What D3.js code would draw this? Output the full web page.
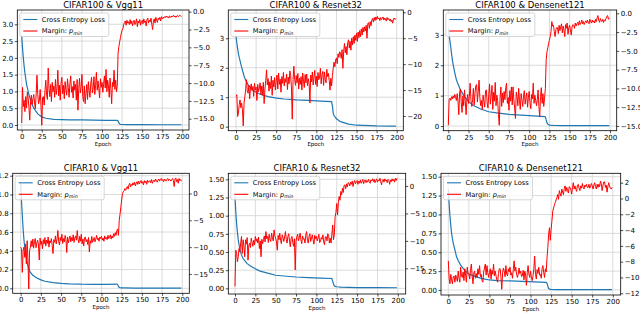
<!DOCTYPE html>
<html>
<head>
<meta charset="utf-8">
<script src="https://d3js.org/d3.v7.min.js"></script>
<style>
  body { margin: 0; background: #fff; }
  svg text { font-family: "DejaVu Sans", sans-serif; fill: #000; }
</style>
</head>
<body>
<div id="chart"></div>
<script>
// ---- data -------------------------------------------------------------
var titles = ["CIFAR100 & Vgg11", "CIFAR100 & Resnet32", "CIFAR100 & Densenet121",
              "CIFAR10 & Vgg11", "CIFAR10 & Resnet32", "CIFAR10 & Densenet121"];
var xTicks = [0, 25, 50, 75, 100, 125, 150, 175, 200];

var lossEpochs = [0, 1, 2, 3, 4, 5, 6, 8, 10, 12, 15, 20, 25, 30, 40, 50, 60, 75, 90, 105,
                  119, 120, 121, 122, 123, 125, 130, 140, 150, 175, 199];

var lossC100Vgg = [2.65, 2.3, 2.0, 1.75, 1.55, 1.38, 1.22, 1.0, 0.82, 0.67, 0.5, 0.33, 0.24, 0.2, 0.17, 0.16,
                   0.155, 0.15, 0.145, 0.14, 0.135, 0.12, 0.06, 0.03, 0.02, 0.015, 0.012, 0.01, 0.01, 0.008, 0.008];
var lossC100Res = [3.06, 2.85, 2.65, 2.48, 2.35, 2.24, 2.12, 1.92, 1.72, 1.58, 1.43, 1.27, 1.17, 1.1, 1.02, 0.97,
                   0.94, 0.91, 0.89, 0.87, 0.85, 0.7, 0.45, 0.38, 0.34, 0.27, 0.17, 0.09, 0.05, 0.025, 0.02];
var lossC100Dense = [3.2, 3.0, 2.8, 2.6, 2.38, 2.18, 2.02, 1.75, 1.52, 1.38, 1.19, 0.97, 0.8, 0.69, 0.56, 0.47,
                     0.43, 0.38, 0.355, 0.335, 0.31, 0.3, 0.2, 0.11, 0.06, 0.03, 0.02, 0.015, 0.012, 0.01, 0.01];
var lossC10Vgg = [1.12, 0.93, 0.77, 0.63, 0.52, 0.44, 0.37, 0.27, 0.21, 0.17, 0.14, 0.11, 0.09, 0.075, 0.06, 0.053,
                  0.048, 0.044, 0.043, 0.043, 0.045, 0.04, 0.02, 0.01, 0.006, 0.005, 0.004, 0.003, 0.003, 0.003, 0.003];
var lossC10Res = [1.26, 1.05, 0.89, 0.77, 0.67, 0.6, 0.53, 0.46, 0.41, 0.38, 0.34, 0.3, 0.27, 0.24, 0.21, 0.18,
                  0.17, 0.156, 0.147, 0.14, 0.135, 0.1, 0.06, 0.035, 0.027, 0.022, 0.016, 0.012, 0.01, 0.009, 0.008];
var lossC10Dense = [1.33, 1.14, 0.98, 0.85, 0.75, 0.68, 0.62, 0.53, 0.44, 0.39, 0.33, 0.26, 0.21, 0.19, 0.155, 0.133,
                    0.125, 0.12, 0.115, 0.108, 0.1, 0.09, 0.05, 0.02, 0.012, 0.008, 0.006, 0.005, 0.005, 0.005, 0.005];

// margin p_min, one value per epoch 0..199
var marginC100Vgg = [
  -15.6, -10.6, -13.3, -12.4, -14.0, -11.9, -13.5, -11.3, -12.1, -13.4,
  -15.2, -12.6, -11.7, -13.0, -12.2, -11.6, -12.8, -13.6, -11.5, -8.9,
  -11.6, -12.9, -12.4, -10.9, -13.2, -15.9, -12.0, -11.9, -13.1, -11.0,
  -9.6, -11.7, -12.3, -7.9, -10.8, -11.9, -10.2, -12.6, -9.9, -11.2,
  -10.4, -12.0, -9.5, -11.6, -10.7, -8.2, -11.8, -10.3, -12.4, -10.0,
  -9.2, -11.5, -10.3, -12.2, -9.8, -10.9, -11.7, -9.4, -10.6, -12.0,
  -10.1, -9.0, -11.3, -10.5, -12.1, -9.7, -11.0, -10.2, -12.4, -9.5,
  -13.8, -10.8, -9.3, -11.4, -10.6, -8.8, -11.9, -12.6, -10.4, -12.9,
  -11.5, -10.2, -12.3, -9.8, -11.1, -12.0, -10.0, -9.2, -11.4, -10.7,
  -9.1, -11.6, -10.3, -8.5, -11.0, -9.7, -10.8, -12.1, -9.4, -10.6,
  -9.9, -11.3, -10.1, -9.0, -10.7, -8.1, -11.2, -9.6, -10.4, -12.0,
  -9.3, -10.8, -12.9, -9.9, -10.5, -8.2, -10.9, -9.6, -11.2, -10.3,
  -5.8, -4.9, -4.2, -3.6, -3.0, -2.6, -2.4, -1.8, -1.5, -1.3,
  -1.9, -1.2, -1.6, -1.4, -1.8, -1.1, -1.7, -1.3, -2.0, -1.4,
  -1.2, -1.8, -1.5, -1.0, -2.1, -1.3, -1.6, -1.1, -1.9, -1.4,
  -1.2, -1.7, -1.0, -1.5, -1.3, -2.0, -1.1, -0.9, -1.6, -1.2,
  -1.4, -0.9, -1.8, -2.5, -1.3, -1.0, -1.6, -0.8, -1.2, -1.5,
  -0.9, -1.1, -0.8, -1.3, -0.7, -1.0, -0.8, -0.9, -0.7, -0.8,
  -0.6, -0.8, -0.7, -0.9, -0.6, -0.7, -0.8, -0.6, -0.7, -0.5,
  -0.7, -0.6, -0.8, -0.6, -0.5, -0.7, -0.6, -0.5, -0.6, -0.7];
var marginC100Res = [
  -16.2, -15.9, -20.1, -19.4, -17.8, -16.9, -18.4, -17.5, -18.8, -21.9,
  -17.5, -16.3, -14.9, -13.0, -15.2, -15.6, -14.1, -16.7, -14.6, -13.8,
  -15.1, -14.3, -16.2, -13.7, -15.0, -14.4, -17.0, -13.9, -15.3, -14.6,
  -13.6, -15.8, -14.2, -16.0, -13.5, -17.6, -14.8, -13.2, -11.1, -14.0,
  -12.8, -15.2, -13.4, -14.7, -12.3, -16.0, -13.1, -14.4, -12.6, -15.0,
  -13.3, -12.1, -14.8, -11.7, -13.9, -12.9, -15.4, -12.4, -13.7, -11.6,
  -14.2, -12.8, -13.5, -11.9, -14.9, -12.5, -13.8, -11.3, -12.2, -14.6,
  -20.6, -13.0, -10.4, -12.9, -14.1, -12.2, -13.6, -11.8, -14.8, -12.7,
  -13.9, -12.4, -15.0, -11.7, -13.3, -14.5, -12.0, -13.6, -11.9, -14.2,
  -12.8, -13.7, -17.5, -12.1, -13.4, -11.5, -14.0, -12.6, -11.2, -13.9,
  -12.3, -14.3, -11.6, -13.0, -12.5, -10.8, -13.8, -12.0, -11.4, -14.1,
  -11.5, -12.9, -13.6, -11.0, -12.4, -11.8, -13.1, -15.0, -12.7, -14.2,
  -12.2, -10.8, -9.6, -10.5, -9.2, -8.8, -9.9, -8.0, -8.7, -7.6,
  -7.9, -8.9, -7.2, -10.8, -7.5, -6.0, -7.8, -6.6, -8.2, -5.9,
  -5.3, -6.9, -5.6, -7.3, -5.0, -6.3, -4.7, -6.0, -4.4, -5.4,
  -4.0, -5.6, -3.8, -4.9, -3.5, -4.7, -3.2, -4.4, -2.9, -3.8,
  -2.8, -3.6, -2.5, -5.0, -2.2, -2.0, -3.1, -1.8, -2.6, -1.5,
  -1.2, -1.9, -1.0, -1.6, -0.9, -1.4, -0.8, -1.3, -1.1, -1.6,
  -1.0, -1.4, -1.2, -0.9, -1.5, -1.1, -1.3, -1.7, -1.0, -1.4,
  -1.2, -1.6, -1.3, -1.8, -1.5, -2.1, -1.3, -1.1, -1.4, -1.2];
var marginC100Dense = [
  -14.9, -11.5, -11.3, -11.6, -11.1, -11.4, -11.0, -11.3, -10.8, -11.2,
  -11.6, -10.7, -11.8, -13.5, -10.5, -10.1, -11.9, -13.2, -11.0, -12.3,
  -10.2, -11.7, -13.5, -11.5, -10.8, -12.0, -11.1, -9.3, -11.6, -12.4,
  -11.5, -10.0, -12.2, -10.6, -9.6, -9.5, -11.8, -10.4, -8.9, -11.2,
  -12.3, -11.6, -12.8, -10.9, -11.7, -12.5, -10.3, -10.2, -11.9, -12.6,
  -10.8, -9.4, -12.1, -11.0, -9.6, -12.8, -10.5, -11.7, -9.2, -12.3,
  -10.9, -11.6, -13.5, -14.9, -11.3, -9.8, -12.4, -10.6, -11.9, -10.4,
  -11.5, -9.9, -9.3, -12.0, -11.2, -12.9, -10.3, -11.7, -9.8, -12.2,
  -9.8, -11.4, -12.6, -14.0, -10.5, -11.1, -12.3, -10.0, -11.6, -12.8,
  -10.7, -11.5, -12.4, -11.0, -10.3, -12.1, -11.3, -10.6, -12.5, -11.2,
  -10.4, -11.9, -12.7, -10.8, -11.4, -9.3, -12.0, -10.9, -11.6, -12.3,
  -11.5, -10.2, -12.4, -13.8, -11.1, -9.9, -12.0, -10.7, -12.4, -11.3,
  -10.0, -6.2, -5.1, -4.6, -4.0, -3.6, -3.1, -2.4, -1.1, -1.7,
  -1.6, -2.4, -3.1, -2.2, -1.9, -1.9, -2.7, -1.6, -2.3, -1.8,
  -1.4, -2.6, -1.7, -2.2, -3.1, -1.5, -2.0, -1.3, -2.8, -1.9,
  -1.6, -2.2, -2.9, -1.8, -1.5, -1.6, -2.0, -1.3, -1.7, -1.4,
  -1.2, -1.6, -1.0, -1.5, -1.3, -0.9, -1.4, -1.1, -1.5, -1.2,
  -1.0, -1.3, -0.9, -1.2, -1.4, -0.8, -1.1, -1.3, -0.9, -1.2,
  -1.0, -1.3, -0.8, -1.1, -0.6, -0.3, -0.9, -1.2, -0.7, -1.0,
  -1.1, -0.8, -1.2, -0.9, -1.0, -0.7, -0.4, -0.3, -0.8, -0.6];
var marginC10Vgg = [
  -10.0, -10.3, -14.7, -10.6, -10.0, -11.9, -9.4, -13.1, -8.8, -12.5,
  -17.8, -10.6, -10.0, -8.8, -9.9, -8.5, -10.2, -9.0, -8.4, -10.1,
  -9.2, -8.7, -9.6, -12.4, -8.3, -9.5, -8.9, -10.3, -8.6, -9.4,
  -8.2, -9.8, -8.7, -9.3, -8.1, -10.0, -8.8, -9.2, -8.4, -9.7,
  -11.2, -8.6, -9.1, -7.9, -9.4, -8.5, -6.9, -8.9, -9.6, -8.2,
  -8.8, -7.6, -9.3, -8.4, -9.0, -7.8, -8.6, -11.0, -8.1, -9.2,
  -8.5, -7.9, -9.0, -8.2, -8.8, -7.7, -9.1, -8.3, -7.9, -8.7,
  -6.9, -8.6, -9.2, -8.0, -8.9, -7.6, -9.4, -8.5, -9.8, -8.3,
  -8.1, -9.0, -8.6, -9.5, -8.2, -10.9, -8.8, -9.3, -8.0, -9.1,
  -8.7, -8.2, -9.0, -8.5, -7.8, -8.6, -8.3, -8.9, -8.1, -8.4,
  -8.0, -8.7, -8.3, -8.9, -7.9, -8.5, -8.2, -8.6, -7.8, -8.4,
  -8.1, -7.7, -8.5, -7.9, -8.3, -7.5, -8.0, -7.3, -7.8, -6.9,
  -6.6, -7.8, -5.0, -3.8, -2.5, -1.2, 0.0, 0.3, 0.5, 0.9,
  0.6, 1.1, 1.3, 0.8, 1.6, 1.9, 1.2, 1.7, 1.5, 2.0,
  1.6, 2.1, 1.4, 1.9, 2.2, 1.7, 2.3, 1.8, 2.1, 2.4,
  1.9, 2.2, 1.6, 2.4, 2.0, 2.3, 1.7, 2.5, 2.1, 2.2,
  2.4, 2.0, 2.6, 1.9, 2.3, 2.5, 2.2, 2.7, 2.4, 2.1,
  2.5, 2.7, 2.3, 2.6, 2.8, 2.4, 2.6, 2.2, 2.7, 2.5,
  2.3, 2.6, 2.8, 2.4, 2.7, 2.5, 2.3, 2.6, 2.8, 2.4,
  1.3, 2.7, 2.9, 2.2, 2.6, 1.9, 2.8, 2.4, 2.6, 2.3];
var marginC10Res = [
  -18.3, -11.7, -12.3, -13.8, -12.9, -11.4, -12.0, -10.4, -9.2, -12.3,
  -9.8, -11.0, -12.9, -9.8, -10.6, -9.4, -13.5, -10.8, -10.4, -11.2,
  -9.5, -10.3, -11.0, -9.9, -10.7, -9.2, -10.1, -9.6, -10.4, -9.3,
  -11.4, -10.0, -12.9, -9.7, -10.5, -9.8, -9.1, -10.2, -8.3, -9.6,
  -9.2, -10.3, -8.8, -9.7, -10.1, -8.6, -9.4, -10.0, -8.0, -9.1,
  -9.5, -10.2, -11.7, -9.0, -9.8, -8.6, -9.9, -10.5, -8.9, -9.4,
  -10.1, -9.3, -8.3, -9.7, -10.4, -9.2, -8.7, -10.0, -11.1, -9.5,
  -9.2, -10.3, -11.0, -9.6, -15.3, -10.1, -9.2, -8.8, -10.0, -9.4,
  -8.6, -9.8, -10.5, -9.1, -9.7, -9.6, -10.4, -8.9, -8.3, -9.9,
  -10.4, -9.2, -8.7, -10.1, -9.5, -8.9, -9.8, -10.6, -9.0, -9.6,
  -9.2, -10.0, -9.5, -8.8, -10.3, -10.1, -9.4, -9.7, -8.9, -10.2,
  -10.7, -9.3, -9.2, -10.0, -8.7, -9.0, -10.4, -9.5, -10.4, -8.8,
  -7.1, -9.8, -8.9, -5.6, -4.8, -3.2, -5.3, -3.0, -1.9, -2.6,
  -1.0, -1.6, -0.4, -1.2, 0.1, 0.2, -0.5, 0.4, -0.2, 0.6,
  0.5, 0.0, 0.7, 0.3, 0.9, -0.1, 0.6, 1.0, 0.4, 0.8,
  1.0, 0.3, 0.9, 0.5, 1.1, 0.5, 0.8, 1.2, 0.4, 0.9,
  1.1, 0.6, 1.0, 0.7, 1.2, 0.8, 0.5, 1.1, 0.9, 1.3,
  0.8, 1.2, 0.6, 1.0, 1.3, 0.7, 1.1, 0.9, 1.4, 0.8,
  0.2, 1.0, 1.2, 0.7, 1.3, 0.9, 1.1, 0.6, 1.2, 1.0,
  0.3, 1.1, 0.8, 1.3, 0.9, 1.2, 0.7, 1.4, 1.0, 1.4];
var marginC10Dense = [
  -7.9, -10.2, -10.8, -9.6, -10.3, -10.8, -9.9, -9.8, -10.6, -9.7,
  -10.0, -10.5, -9.2, -10.1, -10.6, -8.7, -9.8, -10.0, -9.3, -10.4,
  -8.9, -9.7, -10.6, -8.7, -9.5, -9.6, -10.2, -9.1, -8.3, -9.8,
  -10.8, -9.4, -9.2, -10.1, -9.5, -10.0, -8.9, -9.6, -8.5, -9.9,
  -9.6, -10.4, -10.6, -9.3, -8.8, -8.3, -9.7, -8.5, -9.4, -10.0,
  -9.4, -8.9, -10.2, -9.1, -9.6, -8.3, -9.8, -9.2, -9.8, -10.3,
  -10.6, -9.5, -8.9, -8.9, -10.0, -11.5, -9.4, -8.8, -9.2, -9.9,
  -8.5, -9.6, -9.8, -8.9, -9.3, -8.7, -9.7, -9.4, -10.1, -9.0,
  -7.9, -9.2, -8.7, -9.6, -10.0, -9.6, -8.8, -9.5, -9.2, -9.9,
  -9.8, -9.1, -10.3, -9.2, -9.7, -11.0, -9.4, -8.5, -9.6, -10.0,
  -9.2, -9.9, -10.4, -9.8, -8.9, -7.3, -9.6, -10.2, -9.0, -9.5,
  -8.7, -9.7, -9.6, -10.1, -8.9, -8.5, -9.4, -10.0, -8.9, -9.3,
  -7.5, -6.2, -4.5, -3.7, -5.3, -3.9, -2.8, -1.6, -1.2, -0.8,
  -0.5, -0.2, 0.1, 0.5, -0.1, 1.0, 0.6, 0.3, 1.2, 0.8,
  0.5, 1.3, 1.6, 0.9, 1.4, 1.0, 0.7, 1.5, 1.4, 1.1,
  0.55, 1.4, 2.0, 1.2, 1.6, 1.2, 0.9, 1.7, 1.8, 1.3,
  1.0, 1.6, 1.3, 1.9, 1.4, 1.2, 1.7, 1.5, 1.8, 1.4,
  1.4, 1.8, 1.3, 1.6, 1.9, 1.6, 1.2, 1.7, 2.0, 1.5,
  1.2, 1.8, 1.4, 1.8, 1.5, 2.2, 1.9, 1.0, 1.6, 2.1,
  2.1, 1.4, 1.7, 0.8, 1.5, 2.0, 1.6, 1.3, 1.2, 1.4];

var lossSeries = [lossC100Vgg, lossC100Res, lossC100Dense, lossC10Vgg, lossC10Res, lossC10Dense];
var marginSeries = [marginC100Vgg, marginC100Res, marginC100Dense, marginC10Vgg, marginC10Res, marginC10Dense];

var leftTicks = [
  [0, 0.5, 1, 1.5, 2, 2.5, 3],
  [0, 1, 2, 3],
  [0, 1, 2, 3],
  [0, 0.2, 0.4, 0.6, 0.8, 1.0, 1.2],
  [0, 0.25, 0.5, 0.75, 1.0, 1.25, 1.5],
  [0, 0.25, 0.5, 0.75, 1.0, 1.25, 1.5]];
var rightTicks = [
  [0, -2.5, -5, -7.5, -10, -12.5, -15],
  [0, -5, -10, -15, -20],
  [0, -2.5, -5, -7.5, -10, -12.5, -15],
  [0, -5, -10, -15],
  [0, -5, -10, -15],
  [2, 0, -2, -4, -6, -8, -10, -12]];
var leftFmt = [".1f", "d", "d", ".1f", ".2f", ".2f"];
var rightFmt = [".1f", "d", ".1f", "d", "d", "d"];

// ---- layout (axes boxes and ranges per panel) --------------------------
var layout = [
  {x0: 17.3,  x1: 189,   y0: 10,    y1: 130,   xDom: [-5.5, 208.3], lDom: [-0.149, 3.426], rDom: [-16.58, 0.238]},
  {x0: 228.3, x1: 403.3, y0: 10,    y1: 130.7, xDom: [-9.6, 208.2], lDom: [-0.136, 3.96],  rDom: [-22.83, 0.44]},
  {x0: 443.3, x1: 616.7, y0: 10,    y1: 130.7, xDom: [-6.2, 208.2], lDom: [-0.155, 3.82],  rDom: [-15.63, 0.44]},
  {x0: 12.7,  x1: 189.3, y0: 173.3, y1: 293.3, xDom: [-9.9, 208.7], lDom: [-0.053, 1.226], rDom: [-18.6, 3.76]},
  {x0: 228.3, x1: 405.7, y0: 173.3, y1: 294,   xDom: [-8.2, 209.7], lDom: [-0.078, 1.583], rDom: [-19.68, 2.31]},
  {x0: 441,   x1: 620.7, y0: 173.3, y1: 295,   xDom: [-8.9, 209.6], lDom: [-0.066, 1.545], rDom: [-12.22, 3.19]}];

var blue = "#1f77b4", red = "#ff0000";

var svg = d3.select("#chart").append("svg")
  .attr("width", 640).attr("height", 314)
  .style("background", "#fff");

layout.forEach(function(L, i) {
  var x = d3.scaleLinear().domain(L.xDom).range([L.x0, L.x1]);
  var yl = d3.scaleLinear().domain(L.lDom).range([L.y1, L.y0]);
  var yr = d3.scaleLinear().domain(L.rDom).range([L.y1, L.y0]);
  var g = svg.append("g");

  g.append("clipPath").attr("id", "clip" + i)
    .append("rect").attr("x", L.x0).attr("y", L.y0)
    .attr("width", L.x1 - L.x0).attr("height", L.y1 - L.y0);

  // grid
  g.selectAll(".vg").data(xTicks).enter().append("line")
    .attr("x1", d => x(d)).attr("x2", d => x(d))
    .attr("y1", L.y0).attr("y2", L.y1)
    .attr("stroke", "#d2d2d2").attr("stroke-width", 0.8);
  g.selectAll(".hg").data(leftTicks[i]).enter().append("line")
    .attr("x1", L.x0).attr("x2", L.x1)
    .attr("y1", d => yl(d)).attr("y2", d => yl(d))
    .attr("stroke", "#d2d2d2").attr("stroke-width", 0.8);

  // lines
  var lossLine = d3.line().x((d, k) => x(lossEpochs[k])).y(d => yl(d));
  var marginLine = d3.line().x((d, k) => x(k)).y(d => yr(d));
  var plot = g.append("g").attr("clip-path", "url(#clip" + i + ")");
  plot.append("path").datum(lossSeries[i])
    .attr("d", lossLine).attr("fill", "none")
    .attr("stroke", blue).attr("stroke-width", 1.2);
  plot.append("path").datum(marginSeries[i])
    .attr("d", marginLine).attr("fill", "none")
    .attr("stroke", red).attr("stroke-width", 1).attr("stroke-linejoin", "round");

  // frame
  g.append("rect").attr("x", L.x0).attr("y", L.y0)
    .attr("width", L.x1 - L.x0).attr("height", L.y1 - L.y0)
    .attr("fill", "none").attr("stroke", "#000").attr("stroke-width", 0.8);

  // axes (d3.axis sets its own font-size, so override afterwards)
  function styleAxis(sel) {
    sel.attr("font-size", 7).attr("font-family", "DejaVu Sans, sans-serif");
    sel.select(".domain").remove();
    sel.selectAll("line").attr("stroke", "#000").attr("stroke-width", 0.7);
    sel.selectAll("text").attr("fill", "#000");
  }
  g.append("g").attr("transform", "translate(0," + L.y1 + ")")
    .call(d3.axisBottom(x).tickValues(xTicks).tickSize(2.5).tickPadding(1.5))
    .call(styleAxis);
  g.append("g").attr("transform", "translate(" + L.x0 + ",0)")
    .call(d3.axisLeft(yl).tickValues(leftTicks[i]).tickFormat(d3.format(leftFmt[i])).tickSize(2.5).tickPadding(1.5))
    .call(styleAxis);
  g.append("g").attr("transform", "translate(" + L.x1 + ",0)")
    .call(d3.axisRight(yr).tickValues(rightTicks[i]).tickFormat(d3.format(rightFmt[i])).tickSize(2.5).tickPadding(1.5))
    .call(styleAxis);

  // title and x label
  g.append("text").attr("x", (L.x0 + L.x1) / 2).attr("y", L.y0 - 2.5)
    .attr("text-anchor", "middle").attr("font-size", 8.5).text(titles[i]);
  g.append("text").attr("x", (L.x0 + L.x1) / 2).attr("y", L.y1 + 15.5)
    .attr("text-anchor", "middle").attr("font-size", 5.5).text("Epoch");

  // legend
  var lx = L.x0 + 2.5, ly = L.y0 + 3;
  var lg = g.append("g");
  lg.append("rect").attr("x", lx).attr("y", ly).attr("width", 89).attr("height", 23.5)
    .attr("rx", 2).attr("fill", "#fff").attr("fill-opacity", 0.8)
    .attr("stroke", "#cccccc").attr("stroke-width", 0.8);
  [[blue, 6.5], [red, 18]].forEach(function(r) {
    lg.append("line").attr("x1", lx + 3.5).attr("x2", lx + 17.5)
      .attr("y1", ly + r[1]).attr("y2", ly + r[1])
      .attr("stroke", r[0]).attr("stroke-width", 1.1);
  });
  lg.append("text").attr("x", lx + 22).attr("y", ly + 6.5 + 2.4)
    .attr("font-size", 6.7).text("Cross Entropy Loss");
  var t2 = lg.append("text").attr("x", lx + 22).attr("y", ly + 18 + 2.4).attr("font-size", 6.7);
  t2.append("tspan").text("Margin: ");
  t2.append("tspan").attr("font-style", "italic").text("p");
  t2.append("tspan").attr("font-style", "italic").attr("font-size", 4.8).attr("dy", 1.6).text("min");
});
</script>
</body>
</html>
